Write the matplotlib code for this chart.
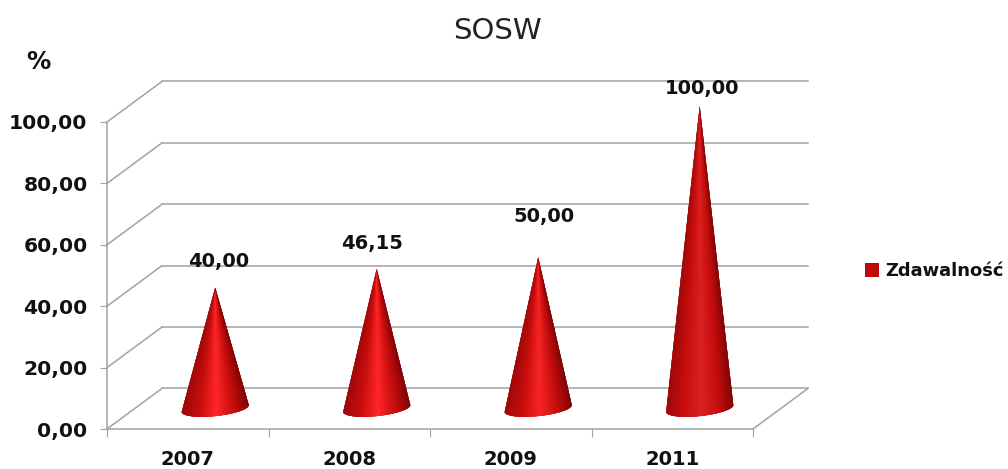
import numpy as np
import matplotlib
matplotlib.use("Agg")
import matplotlib.pyplot as plt
from matplotlib.collections import PolyCollection
from matplotlib.colors import LinearSegmentedColormap
from matplotlib.patches import Patch

# data
years = ["2007", "2008", "2009", "2011"]
values = [40.00, 46.15, 50.00, 100.00]
value_labels = ["40,00", "46,15", "50,00", "100,00"]
y_ticks = [0, 20, 40, 60, 80, 100]
y_tick_labels = ["0,00", "20,00", "40,00", "60,00", "80,00", "100,00"]
title = "SOSW"
y_title = "%"
series_name = "Zdawalność"

# style
W, H = 1008, 469
GRID = "#a2a2a2"
TXT = "#111111"
DEPTH_X, DEPTH_Y = 0.34, 13.2
HEIGHT_SCALE = 0.985
label_offsets = [(3, 16), (-5, 16), (6, 31), (2, 8)]
cone_peak = [1.0, 1.0, 0.97, 0.86]

plt.rcParams["font.family"] = "DejaVu Sans"
fig = plt.figure(figsize=(W / 100, H / 100), dpi=100, facecolor="white")
ax = fig.add_axes([107 / W, (H - 429) / H, (753 - 107) / W, (429 - 122) / H])
ax.set_xlim(0, len(years))
ax.set_ylim(0, 100)
ax.patch.set_visible(False)

for s in ("top", "right"):
    ax.spines[s].set_visible(False)
for s in ("left", "bottom"):
    ax.spines[s].set_color(GRID)
    ax.spines[s].set_linewidth(1.1)

# axes and walls
kw = dict(color=GRID, lw=1.1, clip_on=False, zorder=1)
n = len(years)
for v in y_ticks:
    ax.plot([0, DEPTH_X], [v, v + DEPTH_Y], **kw)
    ax.plot([DEPTH_X, n + DEPTH_X], [v + DEPTH_Y, v + DEPTH_Y], **kw)
ax.plot([n, n + DEPTH_X], [0, DEPTH_Y], **kw)

ax.set_yticks(y_ticks)
ax.set_yticklabels(y_tick_labels, fontsize=14.6, fontweight="bold", color=TXT, va="center_baseline")
ax.set_xticks(range(n + 1))
ax.set_xticklabels([])
ax.set_xticks(np.arange(n) + 0.5, minor=True)
ax.set_xticklabels(years, minor=True, fontsize=14, fontweight="bold", color=TXT)
ax.tick_params(axis="x", which="major", length=6, color=GRID)
ax.tick_params(axis="x", which="minor", length=0, pad=15)
ax.tick_params(axis="y", length=5, color=GRID, pad=9)

# cones
half_w, half_h, tilt = 0.208, 2.5, 1.1
base_y = DEPTH_Y / 2 + 0.1
ts = np.linspace(np.pi, 2 * np.pi, 121)
for i, (val, peak) in enumerate(zip(values, cone_peak)):
    cx = i + 0.5 + DEPTH_X / 2
    cmap = LinearSegmentedColormap.from_list("c", [
        (0.0, "#a00808"), (0.25, "#c80d0d"), (0.52, tuple(np.array([1.0, 0.15, 0.15]) * peak)),
        (0.8, "#c40c0c"), (1.0, "#840505")])
    apex_y = val * HEIGHT_SCALE + base_y
    ex = cx + half_w * np.cos(ts)
    ey = base_y + half_h * np.sin(ts) + tilt * np.cos(ts)
    polys, cols = [], []
    for k in range(len(ts) - 1):
        j = min(k + 4, len(ts) - 1)  # strips overlap, painted left to right, so no seams show
        polys.append([(cx, apex_y), (ex[k], ey[k])] + list(zip(ex[k + 1:j + 1], ey[k + 1:j + 1])))
        cols.append(cmap((np.cos(0.5 * (ts[k] + ts[k + 1])) + 1) / 2))
    ax.add_collection(PolyCollection(polys, facecolors=cols, edgecolors="none", linewidths=0,
                                     clip_on=False, zorder=3))
    ax.annotate(value_labels[i], (cx, apex_y), xytext=(label_offsets[i][0] / 1.389, label_offsets[i][1] / 1.389),
                textcoords="offset points", ha="center", va="bottom", fontsize=14, fontweight="bold",
                color=TXT, zorder=4, annotation_clip=False)

fig.text(497 / W, 1 - 31 / H, title, ha="center", va="center", fontsize=21, color="#222222")
fig.text(38 / W, 1 - 62 / H, y_title, ha="center", va="center", fontsize=17.5, fontweight="bold", color=TXT)

leg = ax.legend(handles=[Patch(facecolor="#c00808", label=series_name)], loc="center left",
                bbox_to_anchor=(865 / W, 1 - 271 / H), bbox_transform=fig.transFigure, frameon=False,
                prop=dict(size=12.9, weight="bold"), handlelength=0.8, handleheight=0.8,
                handletextpad=0.35, borderpad=0, borderaxespad=0)
for t in leg.get_texts():
    t.set_color(TXT)

fig.savefig("out.png", dpi=100, facecolor="white")
